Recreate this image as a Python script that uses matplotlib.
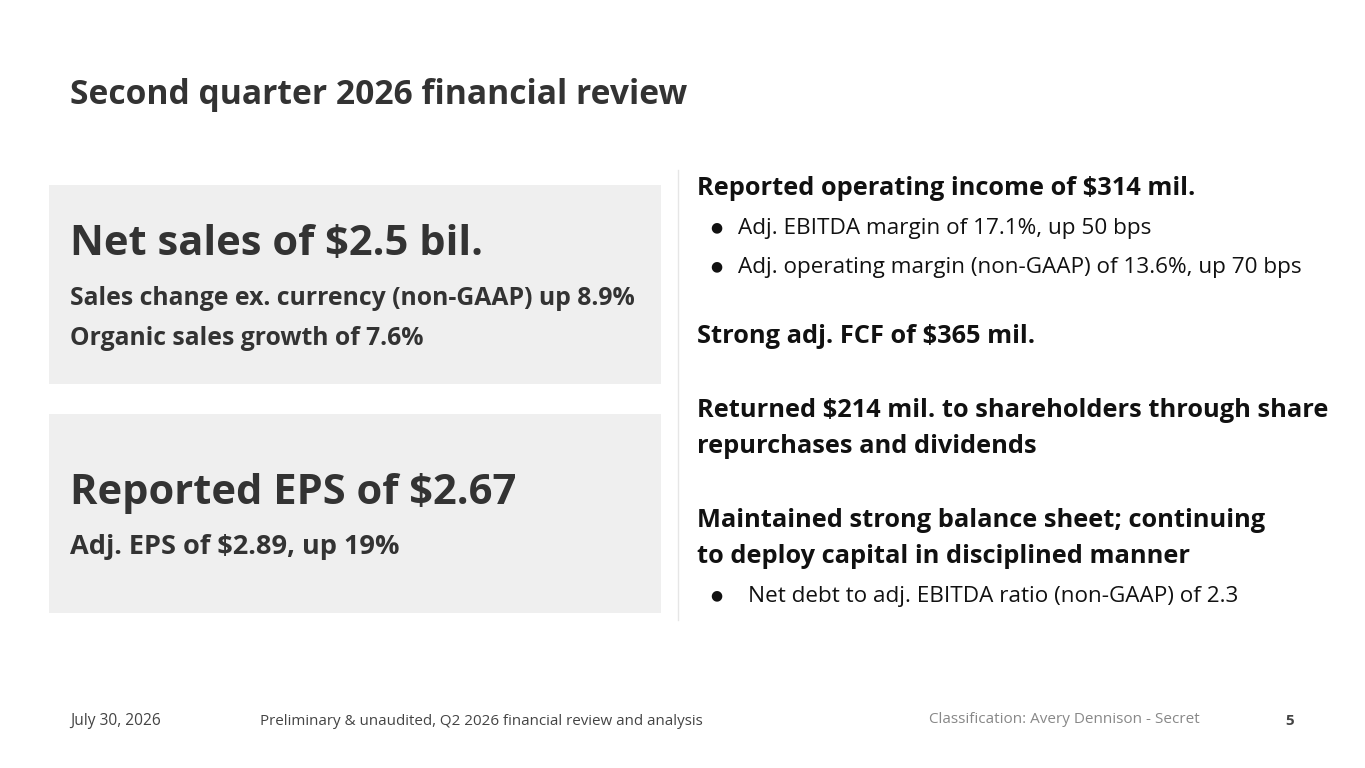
import matplotlib.pyplot as plt
from matplotlib.patches import Rectangle

plt.rcParams['font.family'] = ['Open Sans', 'DejaVu Sans']

# slide texts
title = "Second quarter 2026 financial review"
box_heads = ["Net sales of $2.5 bil.", "Reported EPS of $2.67"]
box_lines = [["Sales change ex. currency (non-GAAP) up 8.9%", "Organic sales growth of 7.6%"],
             ["Adj. EPS of $2.89, up 19%"]]
box_line_size = [17.8, 19.5]
right_heads = [["Reported operating income of $314 mil."],
               ["Strong adj. FCF of $365 mil."],
               ["Returned $214 mil. to shareholders through share", "repurchases and dividends"],
               ["Maintained strong balance sheet; continuing", "to deploy capital in disciplined manner"]]
right_bullets = [["Adj. EBITDA margin of 17.1%, up 50 bps",
                  "Adj. operating margin (non-GAAP) of 13.6%, up 70 bps"],
                 [], [],
                 ["Net debt to adj. EBITDA ratio (non-GAAP) of 2.3"]]
footer = ["July 30, 2026", "Preliminary & unaudited, Q2 2026 financial review and analysis",
          "Classification: Avery Dennison - Secret", "5"]

fig = plt.figure(figsize=(13.65, 7.68), dpi=100)
ax = fig.add_axes([0, 0, 1, 1])
ax.set_xlim(0, 1365)
ax.set_ylim(768, 0)
ax.axis('off')

dark = '#333333'
black = '#111111'

ax.text(70, 104, title, fontsize=24.2, fontweight='bold', color=dark, va='baseline')

# gray boxes on the left
box_top = [185, 414]
for i in range(2):
    ax.add_patch(Rectangle((49, box_top[i]), 612, 199, facecolor='#efefef', edgecolor='none'))
head_y = [255, 504]
for i in range(2):
    ax.text(70, head_y[i], box_heads[i], fontsize=30, fontweight='bold', color=dark, va='baseline')
    for j, line in enumerate(box_lines[i]):
        ax.text(70, head_y[i] + 50 + j * 40, line, fontsize=box_line_size[i], fontweight='bold',
                color=dark, va='baseline')

# divider
ax.plot([678, 678], [170, 620], color='#e6e6e6', lw=1)

# right column
head_y = [195, 343, 417, 527]
bullet_x = [738, 738, 738, 748]
for i in range(4):
    for k, line in enumerate(right_heads[i]):
        ax.text(697, head_y[i] + k * 36, line, fontsize=18.3, fontweight='bold', color=black,
                va='baseline')
    y0 = head_y[i] + (len(right_heads[i]) - 1) * 36 + 39
    for j, b in enumerate(right_bullets[i]):
        ax.text(716, y0 + j * 39 - 3, '\u25cf', fontsize=10, color=black, va='baseline',
                ha='center', family='DejaVu Sans')
        ax.text(bullet_x[i], y0 + j * 39, b, fontsize=16.2, color=black, va='baseline')

# footer
ax.text(70, 725, footer[0], fontsize=11.2, color='#444444', va='baseline')
ax.text(260, 725, footer[1], fontsize=10.9, color='#444444', va='baseline')
ax.text(929, 723, footer[2], fontsize=11, color='#888888', va='baseline')
ax.text(1290, 725, footer[3], fontsize=11, fontweight='bold', color='#444444',
        va='baseline', ha='center')

fig.savefig('out.png', dpi=100)
